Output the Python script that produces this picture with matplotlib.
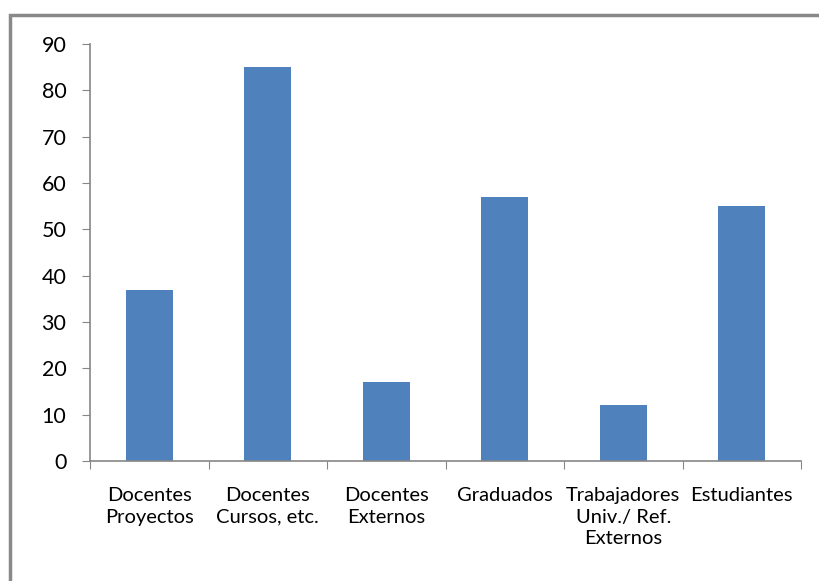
import matplotlib.pyplot as plt
from matplotlib.patches import Rectangle

categories = ["Docentes\nProyectos", "Docentes\nCursos, etc.", "Docentes\nExternos",
              "Graduados", "Trabajadores\nUniv./ Ref.\nExternos", "Estudiantes"]
values = [37, 85, 17, 57, 12, 55]
yticks = list(range(0, 91, 10))

plt.rcParams['font.family'] = ['Lato', 'DejaVu Sans']

fig = plt.figure(figsize=(8.19, 5.81), dpi=100)
ax = fig.add_axes([90 / 819, 1 - 461 / 581, 711 / 819, 417 / 581])

# outer chart border (only top and left visible in the reference crop)
fig.patches.append(Rectangle((10 / 819, -0.1), 1.2, (581 - 15) / 581 + 0.1,
                             transform=fig.transFigure, fill=False,
                             edgecolor='#898989', linewidth=2.5))

x = list(range(len(categories)))
ax.bar(x, values, width=0.4, color='#4F81BD')

ax.set_xlim(-0.5, len(categories) - 0.5)
ax.set_ylim(0, 90)
ax.set_yticks(yticks)
ax.set_yticklabels([str(t) for t in yticks], fontsize=15.5)
ax.tick_params(axis='y', length=6, color='#868686', pad=11)

ax.set_xticks([i - 0.5 for i in range(len(categories) + 1)])
ax.set_xticklabels([])
ax.set_xticks(x, minor=True)
ax.set_xticklabels(categories, minor=True, fontsize=14.5, linespacing=1.32, va='top')
ax.tick_params(axis='x', which='major', length=6, color='#868686')
ax.tick_params(axis='x', which='minor', length=0, pad=19)

for s in ['top', 'right']:
    ax.spines[s].set_visible(False)
for s in ['left', 'bottom']:
    ax.spines[s].set_color('#868686')
    ax.spines[s].set_linewidth(1.2)

fig.savefig('out.png', dpi=100)
